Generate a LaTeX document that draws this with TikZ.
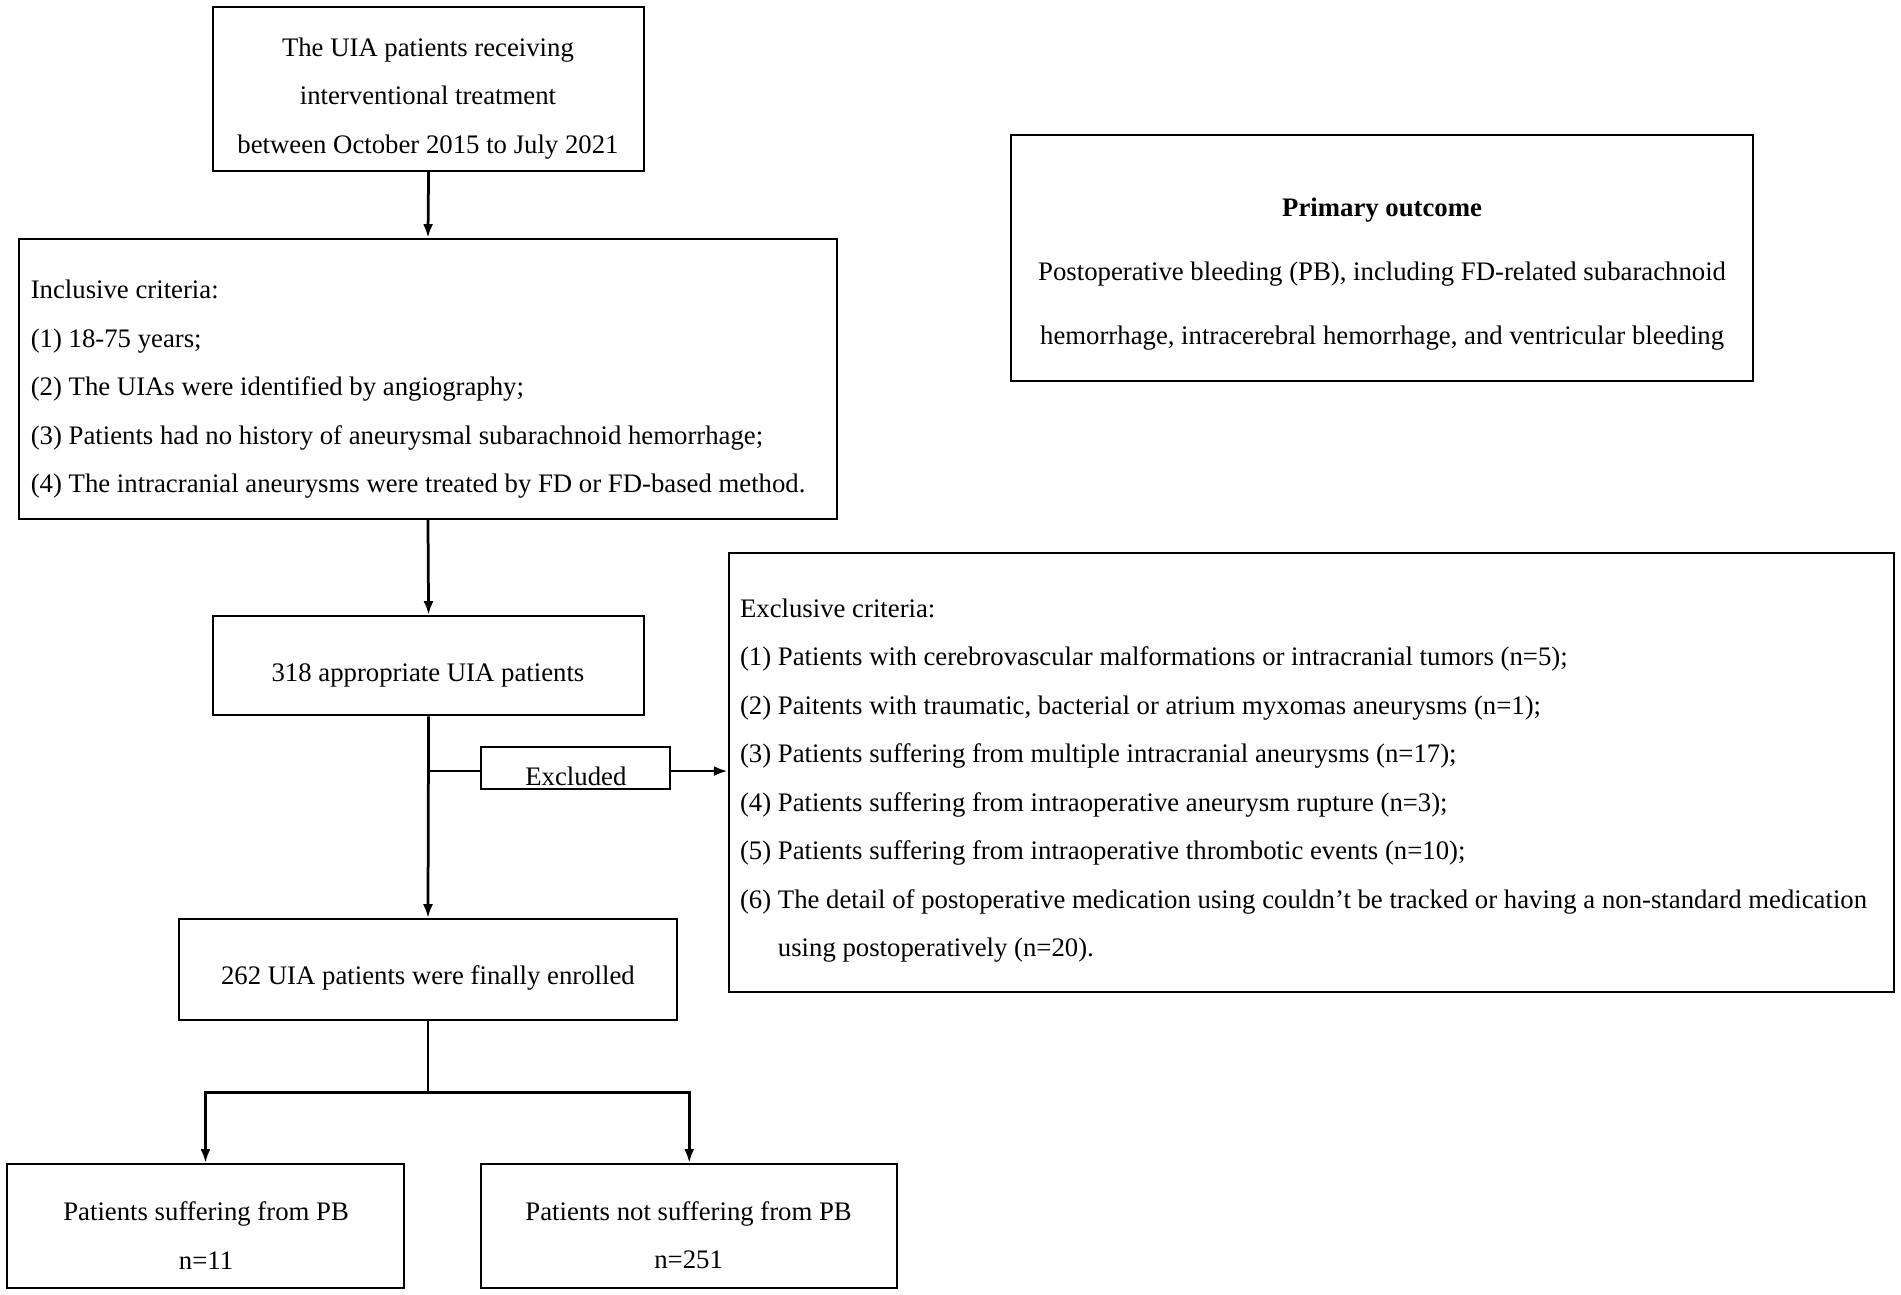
\documentclass[tikz,border=0pt]{standalone}
\usepackage{fontspec}
\setmainfont{Liberation Serif}
\usetikzlibrary{arrows.meta,fit,calc}
\begin{document}
\begin{tikzpicture}[x=0.485pt,y=-0.485pt,
  box/.style={draw, line width=0.8pt, inner sep=0pt},
  txt/.style={font=\fontsize{10.7}{19.4}\selectfont, inner sep=0pt, align=center},
  ltxt/.style={font=\fontsize{10.7}{19.4}\selectfont, inner sep=0pt, align=left, anchor=west},
  arr/.style={line width=1.1pt, -{Latex[length=5.5pt,width=4pt]}},
  ln/.style={line width=1.1pt}]
\useasboundingbox (0,0) rectangle (1568,1068.1);
% boxes
\node[box, fit={(176,6) (531,141)}] (b1) {};
\node[box, fit={(16,197) (690,428)}] (b2) {};
\node[box, fit={(176,508) (531,590)}] (b3) {};
\node[box, fit={(148,758) (558,841)}] (b4) {};
\node[box, fit={(6,960) (333,1062)}] (b5) {};
\node[box, fit={(397,960) (740,1062)}] (b6) {};
\node[box, fit={(397,616) (553,651)}] (ex) {};
\node[box, fit={(601,456) (1562,818)}] (excl) {};
\node[box, fit={(834,111) (1446,314)}] (po) {};
% texts
\node[txt] (t1) at (353,81) {The UIA patients receiving\\interventional treatment\\between October 2015 to July 2021};
\node[ltxt] (t2) at (25,321) {Inclusive criteria:\\(1) 18-75 years;\\(2) The UIAs were identified by angiography;\\(3) Patients had no history of aneurysmal subarachnoid hemorrhage;\\(4) The intracranial aneurysms were treated by FD or FD-based method.};
\node[txt] (t3) at (353,557) {318 appropriate UIA patients};
\node[txt] (t4) at (353,807) {262 UIA patients were finally enrolled};
\node[txt] (t5) at (170,1019) {Patients suffering from PB\\n=11};
\node[txt] (t6) at (568,1019) {Patients not suffering from PB\\n=251};
\node[txt] (tex) at (475,640) {Excluded};
\node[ltxt] (texcl) at (610,644) {Exclusive criteria:\\(1) Patients with cerebrovascular malformations or intracranial tumors (n=5);\\(2) Paitents with traumatic, bacterial or atrium myxomas aneurysms (n=1);\\(3) Patients suffering from multiple intracranial aneurysms (n=17);\\(4) Patients suffering from intraoperative aneurysm rupture (n=3);\\(5) Patients suffering from intraoperative thrombotic events (n=10);\\\mbox{(6) The detail of postoperative medication using couldn’t be tracked or having a non-standard medication}\\\phantom{(6) }using postoperatively (n=20).};
\node[txt] (tpo) at (1140,226) {\textbf{Primary outcome}\\[6.3pt]Postoperative bleeding (PB), including FD-related subarachnoid\\[6.3pt]hemorrhage, intracerebral hemorrhage, and ventricular bleeding};
% connectors
\draw[arr] (b1.south) -- (b2.north);
\draw[arr] (b2.south) -- (b3.north);
\draw[arr] (b3.south) -- (b4.north);
\coordinate (j1) at (353,636);
\draw[ln] (j1) -- (j1 -| ex.west);
\draw[arr] (j1 -| ex.east) -- (j1 -| excl.west);
\coordinate (j2) at (353,901);
\draw[ln] (b4.south) -- (j2);
\draw[arr] (j2) -| (b5.north);
\draw[arr] (j2) -| (b6.north);
\end{tikzpicture}
\end{document}
